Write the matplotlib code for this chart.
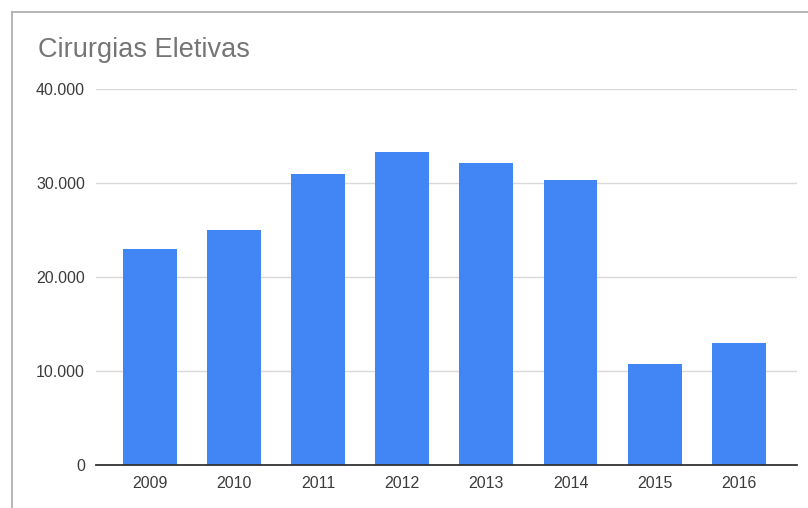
import matplotlib
matplotlib.use("Agg")
import matplotlib.pyplot as plt
from matplotlib.ticker import FuncFormatter
from matplotlib.lines import Line2D

plt.rcParams['font.family'] = ['Liberation Sans', 'DejaVu Sans']

# dados
anos = ["2009", "2010", "2011", "2012", "2013", "2014", "2015", "2016"]
cirurgias = [23000, 25000, 31000, 33300, 32100, 30300, 10700, 13000]
yticks = [0, 10000, 20000, 30000, 40000]

W, H = 808, 508
fig = plt.figure(figsize=(W / 100, H / 100), dpi=100)
ax = fig.add_axes([96 / W, 1 - 465 / H, (797 - 96) / W, (465 - 89) / H])

x = range(len(anos))
ax.bar(x, cirurgias, width=0.64, color="#4285F4", zorder=3)

ax.set_xlim(-0.642, 7.693)
ax.set_ylim(0, 40000)
ax.set_yticks(yticks)
ax.yaxis.set_major_formatter(FuncFormatter(lambda v, p: f"{int(v):,}".replace(",", ".")))
ax.set_xticks(list(x))
ax.set_xticklabels(anos)

ax.grid(axis="y", color="#d9d9d9", linewidth=1, zorder=0)
ax.tick_params(axis="both", length=0, colors="#3c3c3c", labelsize=11.5)
ax.tick_params(axis="y", pad=8)
ax.tick_params(axis="x", pad=8)
for s in ["top", "right", "left"]:
    ax.spines[s].set_visible(False)
ax.spines["bottom"].set_color("#333333")
ax.spines["bottom"].set_linewidth(1.3)
ax.spines["bottom"].set_zorder(4)

fig.text(38 / W, 1 - 50 / H, "Cirurgias Eletivas", fontsize=19.5, color="#757575", va="center", ha="left")

# moldura (topo e esquerda)
fig.add_artist(Line2D([12 / W, 1], [1 - 12 / H, 1 - 12 / H], color="#b0b0b0", linewidth=1.3))
fig.add_artist(Line2D([12 / W, 12 / W], [0, 1 - 12 / H], color="#b0b0b0", linewidth=1.3))

fig.savefig("out.png", dpi=100)
